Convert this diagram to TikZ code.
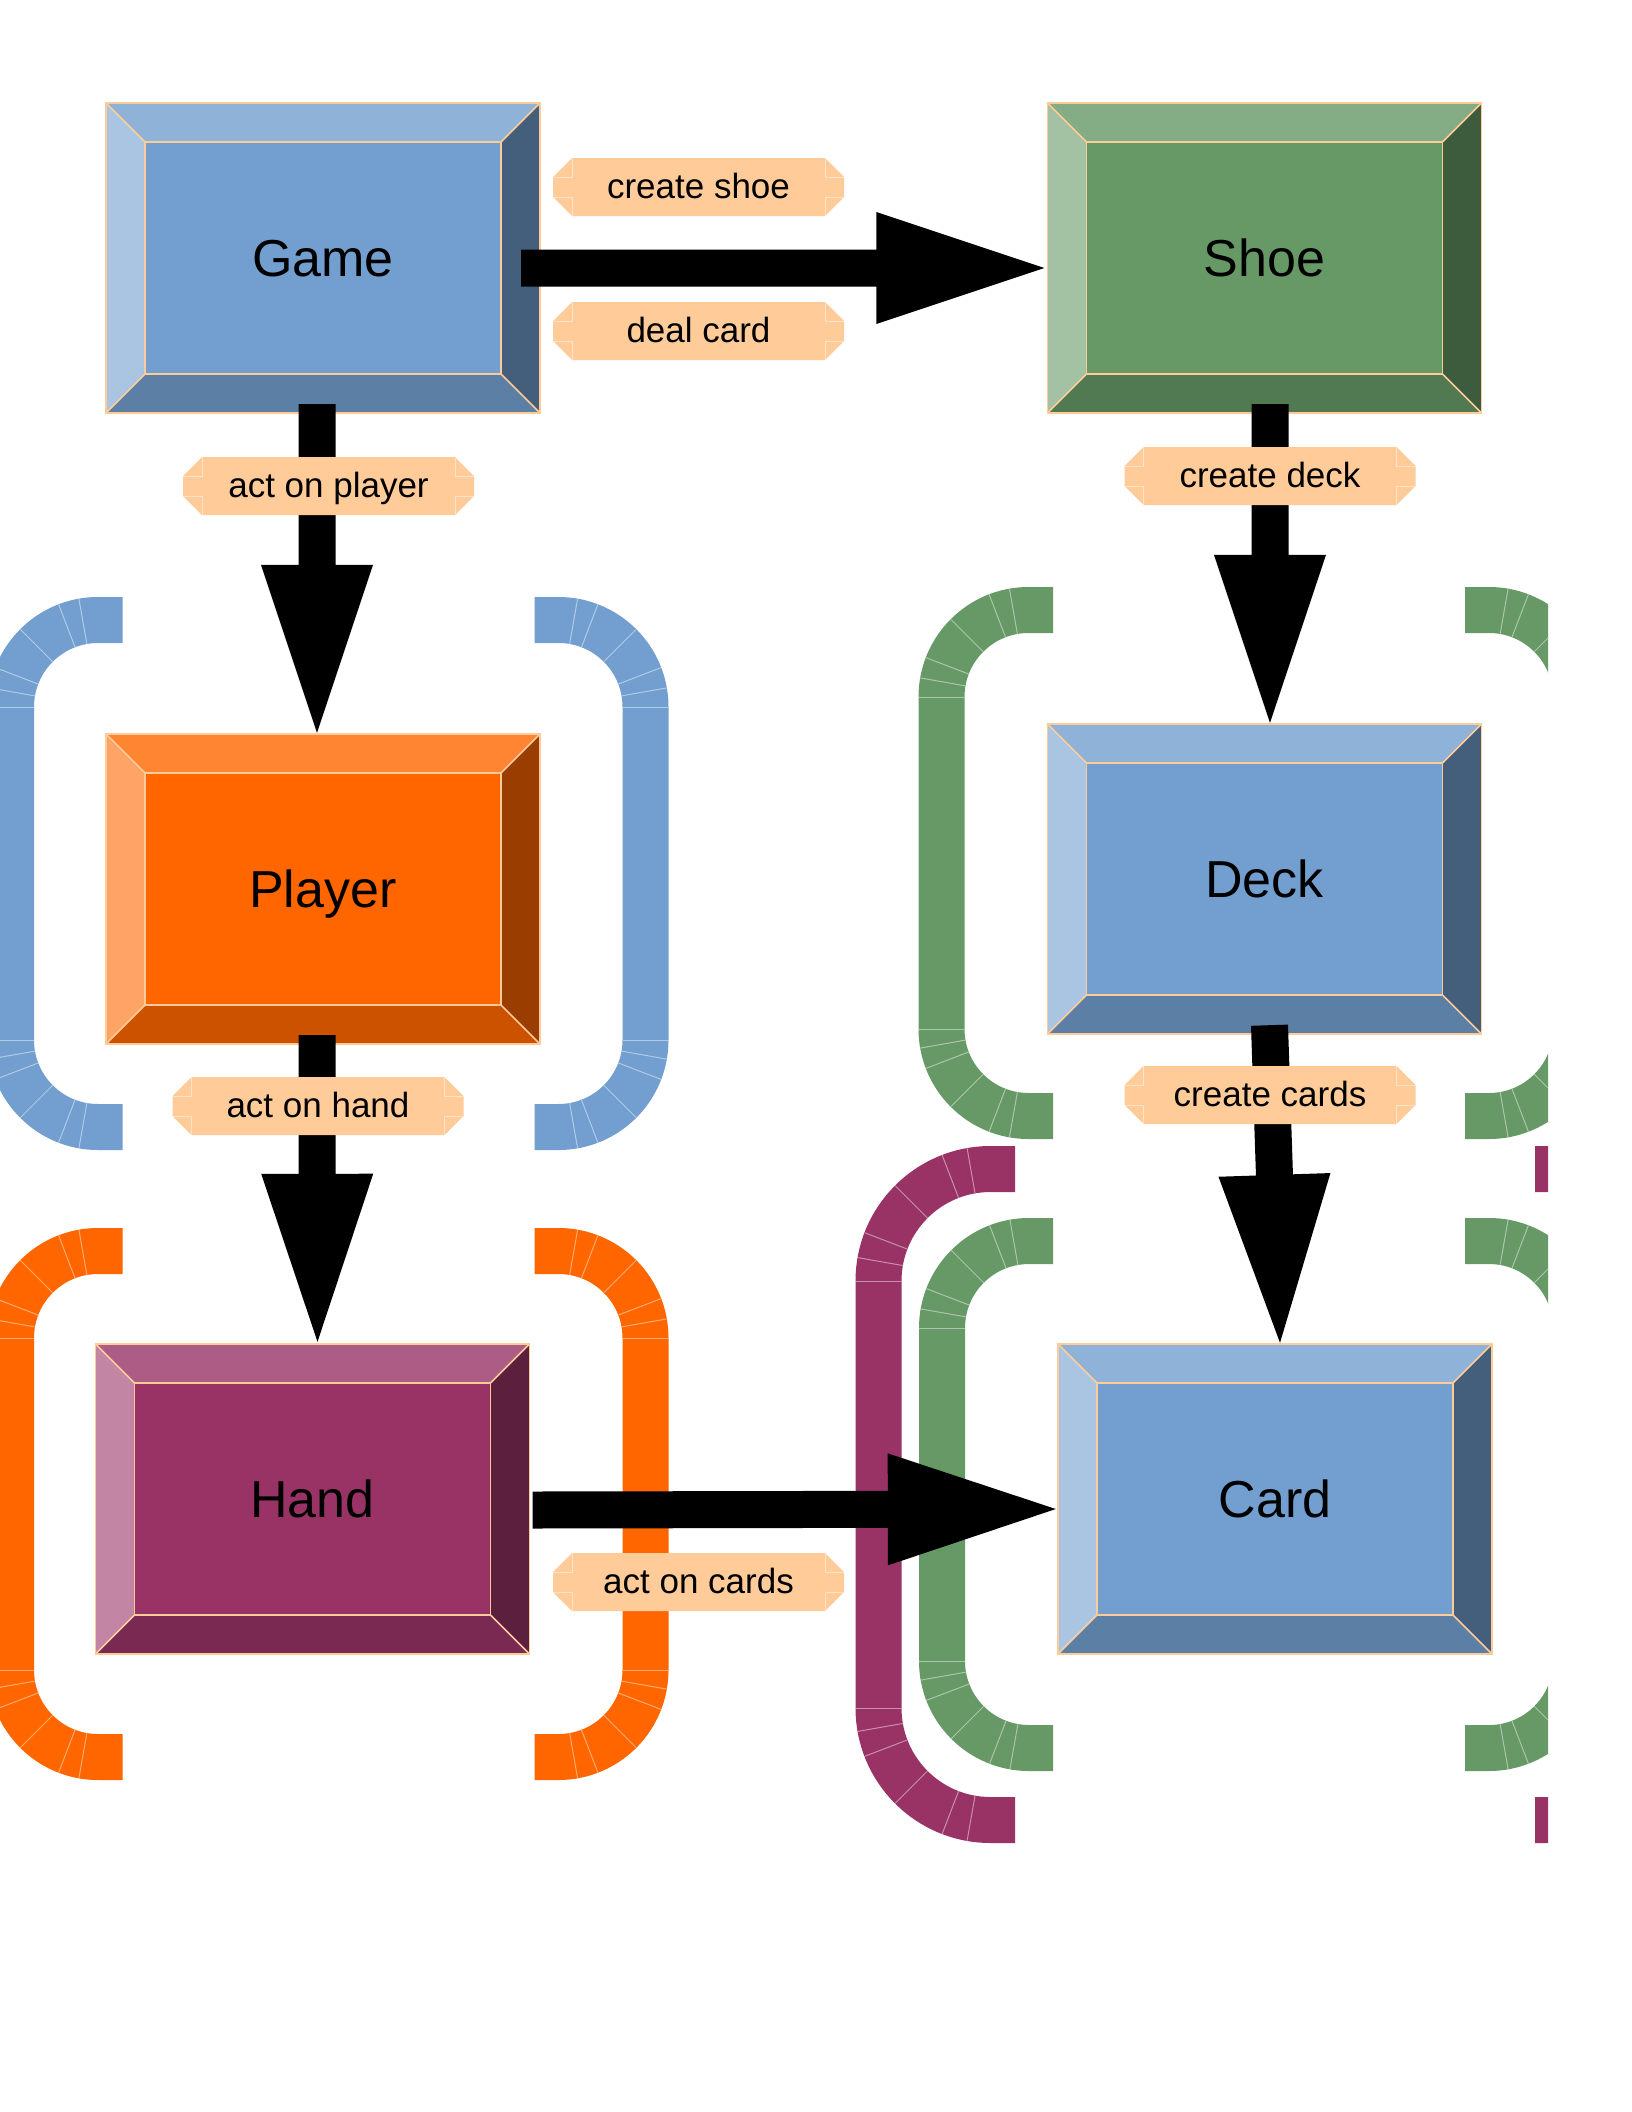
\documentclass[tikz,border=0pt]{standalone}
\usepackage{fontspec}
\setmainfont{Liberation Sans}
\usetikzlibrary{calc}
\definecolor{blueC}{HTML}{729FCF}
\definecolor{greenC}{HTML}{669966}
\definecolor{orangeC}{HTML}{FF6600}
\definecolor{purpleC}{HTML}{993366}
\definecolor{tagC}{HTML}{FFCC99}
\definecolor{tagL}{HTML}{FFE3C6}

\tikzset{
  boxnode/.style={rectangle, minimum width=434pt, minimum height=310pt, inner sep=0pt,
    fill=#1, draw=none, text=black, font=\fontsize{52}{62}\selectfont,
    text height=37.5pt, text depth=0pt},
  tagnode/.style={rectangle, inner sep=0pt, text=black, font=\fontsize{35}{42}\selectfont,
    text height=26pt, text depth=4pt},
  edgeline/.style={draw=tagC, line width=1.5pt},
  radial/.style={draw=#1!55!white, line width=1pt},
}

% bevelled box faces around a named node
\newcommand{\bevelfaces}[2]{%
  \coordinate (#1-a) at (#1.north west);
  \coordinate (#1-b) at (#1.north east);
  \coordinate (#1-c) at (#1.south east);
  \coordinate (#1-d) at (#1.south west);
  \coordinate (#1-ia) at ($(#1.north west)+(39,-39)$);
  \coordinate (#1-ib) at ($(#1.north east)+(-39,-39)$);
  \coordinate (#1-ic) at ($(#1.south east)+(-39,39)$);
  \coordinate (#1-id) at ($(#1.south west)+(39,39)$);
  \fill[#2!80!white] (#1-a) -- (#1-b) -- (#1-ib) -- (#1-ia) -- cycle;
  \fill[#2!60!black] (#1-b) -- (#1-c) -- (#1-ic) -- (#1-ib) -- cycle;
  \fill[#2!80!black] (#1-c) -- (#1-d) -- (#1-id) -- (#1-ic) -- cycle;
  \fill[#2!60!white] (#1-d) -- (#1-a) -- (#1-ia) -- (#1-id) -- cycle;
  \draw[edgeline] (#1-a) rectangle (#1-c);
  \draw[edgeline] (#1-ia) rectangle (#1-ic);
  \draw[edgeline] (#1-a) -- (#1-ia) (#1-b) -- (#1-ib) (#1-c) -- (#1-ic) (#1-d) -- (#1-id);
}

% left bracket: colour, inner x, inner top y, inner bottom y, inner radius, end x (image coords)
\newcommand{\leftbracket}[6]{%
  \pgfmathsetmacro{\rc}{#5+23}
  \draw[#1, line width=46pt, rounded corners=\rc pt]
    (#6,-#3+23) -- (#2-23,-#3+23) -- (#2-23,-#4-23) -- (#6,-#4-23);
  \foreach \a in {0,10,21,45,69,80} {
    \draw[radial=#1] ($(#2+#5,-#3-#5)+(180-\a:#5)$) -- ($(#2+#5,-#3-#5)+(180-\a:#5+46)$);
    \draw[radial=#1] ($(#2+#5,-#4+#5)+(180+\a:#5)$) -- ($(#2+#5,-#4+#5)+(180+\a:#5+46)$);
  }
}
% right bracket: colour, inner x, inner top y, inner bottom y, inner radius, start x
\newcommand{\rightbracket}[6]{%
  \pgfmathsetmacro{\rc}{#5+23}
  \draw[#1, line width=46pt, rounded corners=\rc pt]
    (#6,-#3+23) -- (#2+23,-#3+23) -- (#2+23,-#4-23) -- (#6,-#4-23);
  \foreach \a in {0,10,21,45,69,80} {
    \draw[radial=#1] ($(#2-#5,-#3-#5)+(\a:#5)$) -- ($(#2-#5,-#3-#5)+(\a:#5+46)$);
    \draw[radial=#1] ($(#2-#5,-#4+#5)+(-\a:#5)$) -- ($(#2-#5,-#4+#5)+(-\a:#5+46)$);
  }
}

% block arrow from #1 to tip #2
\newcommand{\blockarrow}[2]{%
  \coordinate (ba-s) at #1;
  \coordinate (ba-t) at #2;
  \coordinate (ba-h) at ($(ba-t)!168pt!(ba-s)$);
  \fill[black] ($(ba-s)!18.5pt!90:(ba-t)$) -- ($(ba-h)!18.5pt!90:(ba-t)$)
    -- ($(ba-h)!56pt!90:(ba-t)$) -- (ba-t) -- ($(ba-h)!56pt!-90:(ba-t)$)
    -- ($(ba-h)!18.5pt!-90:(ba-t)$) -- ($(ba-s)!18.5pt!-90:(ba-t)$) -- cycle;
}

% label plate: name, x, y (image coords), text
\newcommand{\tagplate}[4]{%
  \fill[tagC] (#2-145.5,-#3+10) -- (#2-126.5,-#3+29) -- (#2+126.5,-#3+29) -- (#2+145.5,-#3+10)
    -- (#2+145.5,-#3-10) -- (#2+126.5,-#3-29) -- (#2-126.5,-#3-29) -- (#2-145.5,-#3-10) -- cycle;
  \draw[tagL, line width=1pt] (#2-126.5,-#3+29) -- (#2-126.5,-#3+10) -- (#2-145.5,-#3+10)
    (#2-126.5,-#3-29) -- (#2-126.5,-#3-10) -- (#2-145.5,-#3-10)
    (#2+126.5,-#3+29) -- (#2+126.5,-#3+10) -- (#2+145.5,-#3+10)
    (#2+126.5,-#3-29) -- (#2+126.5,-#3-10) -- (#2+145.5,-#3-10);
  \node[tagnode] (#1) at (#2,-#3) {#4};
}

\begin{document}
\begin{tikzpicture}[x=1pt,y=1pt]
\fill[white] (0,0) rectangle (1632,-2112);
\useasboundingbox (0,0) rectangle (1632,-2112);

% brackets
\begin{scope}
\clip (0,0) rectangle (1548,-2112);
\leftbracket{blueC}{34}{643}{1104}{64}{122.7}
\rightbracket{blueC}{622.5}{643}{1104}{64}{534.5}
\leftbracket{orangeC}{34}{1274}{1734}{64}{122.7}
\rightbracket{orangeC}{622.5}{1274}{1734}{64}{534.5}
\leftbracket{greenC}{964.5}{633}{1093}{64}{1053}
\rightbracket{greenC}{1553}{633}{1093}{64}{1465}
\leftbracket{purpleC}{901.5}{1192}{1797}{89}{1015}
\rightbracket{purpleC}{1648}{1192}{1797}{89}{1535}
\leftbracket{greenC}{965}{1264}{1725}{64}{1053}
\rightbracket{greenC}{1553}{1264}{1725}{64}{1465}
\end{scope}

% boxes
\node[boxnode=blueC] (game) at (323,-258) {Game};
\bevelfaces{game}{blueC}
\node[boxnode=greenC] (shoe) at (1264.5,-258) {Shoe};
\bevelfaces{shoe}{greenC}
\node[boxnode=orangeC] (player) at (323,-889) {Player};
\bevelfaces{player}{orangeC}
\node[boxnode=blueC] (deck) at (1264.5,-879) {Deck};
\bevelfaces{deck}{blueC}
\node[boxnode=purpleC] (hand) at (312.5,-1499) {Hand};
\bevelfaces{hand}{purpleC}
\node[boxnode=blueC] (card) at (1275,-1499) {Card};
\bevelfaces{card}{blueC}

% arrows
\blockarrow{($(game.east)+(-19,-10)$)}{($(shoe.west)+(-3,-10)$)}
\blockarrow{($(game.south)+(-6,9)$)}{($(player.north)+(-6,1)$)}
\blockarrow{($(player.south)+(-6,9)$)}{($(hand.north)+(5,2)$)}
\blockarrow{($(shoe.south)+(5.5,9)$)}{($(deck.north)+(5.5,1)$)}
\blockarrow{($(deck.south)+(5,9)$)}{($(card.north)+(5,1)$)}
\blockarrow{($(hand.east)+(3,-11)$)}{($(card.west)+(-2,-10)$)}

% labels
\tagplate{lshoe}{698.5}{187}{create shoe}
\tagplate{ldeal}{698.5}{331}{deal card}
\tagplate{lplayer}{328.5}{486}{act on player}
\tagplate{ldeck}{1270}{476}{create deck}
\tagplate{lhand}{318}{1106}{act on hand}
\tagplate{lcards}{1270}{1095}{create cards}
\tagplate{lact}{698.5}{1582}{act on cards}
\end{tikzpicture}
\end{document}
